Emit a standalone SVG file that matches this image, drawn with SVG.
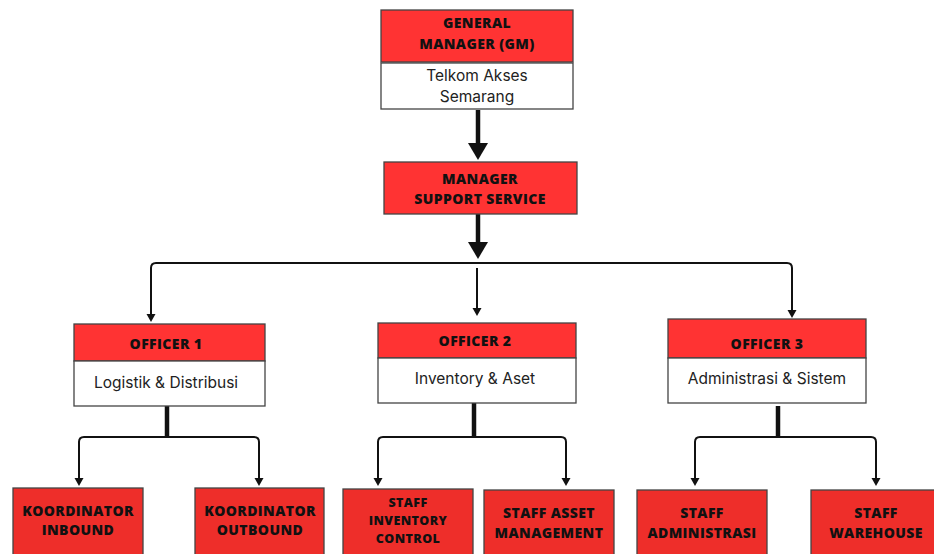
<svg xmlns="http://www.w3.org/2000/svg" width="934" height="554" viewBox="0 0 934 554">
<defs>
<style>
.red{fill:#ff3333;stroke:#444;stroke-width:1.3}
.red2{fill:#ee2e2a;stroke:#444;stroke-width:1.3}
.white{fill:#fff;stroke:#444;stroke-width:1.3}
.t{font-family:"Open Sans","DejaVu Sans",sans-serif;font-weight:800;font-size:14px;letter-spacing:0.4px;fill:#111;text-anchor:middle}
.b{font-family:Inter,Roboto,"Liberation Sans",sans-serif;font-size:15.5px;fill:#222;text-anchor:middle}
.thin{fill:none;stroke:#111;stroke-width:2}
.thick{fill:none;stroke:#111;stroke-width:4.5}
</style>
<marker id="big" markerUnits="userSpaceOnUse" markerWidth="20" markerHeight="20" refX="1" refY="10" orient="auto" viewBox="0 0 20 20">
<path d="M0,0 L17,10 L0,20 z" fill="#111"/>
</marker>
<marker id="sm" markerUnits="userSpaceOnUse" markerWidth="9" markerHeight="10" refX="1" refY="5" orient="auto" viewBox="0 0 9 10">
<path d="M0,0.5 L8,5 L0,9.5 z" fill="#111"/>
</marker>
</defs>
<rect width="934" height="554" fill="#fff"/>

<g id="connectors">
<path class="thick" d="M478,110 V144" marker-end="url(#big)"/>
<path class="thick" d="M478,214 V243" marker-end="url(#big)"/>
<path class="thin" d="M151,316 V268 Q151,263 156,263 H787 Q792,263 792,268 V311" marker-end="url(#sm)"/>
<path class="thin" d="M151,268 V315" marker-end="url(#sm)"/>
<path class="thin" d="M477,268 V309" marker-end="url(#sm)"/>
<path class="thick" d="M167,406 V438"/>
<path class="thin" d="M79,479 V442 Q79,437 84,437 H254 Q259,437 259,442 V479" marker-end="url(#sm)"/>
<path class="thin" d="M79,442 V479" marker-end="url(#sm)"/>
<path class="thick" d="M474,403 V438"/>
<path class="thin" d="M378,479 V442 Q378,437 383,437 H561 Q566,437 566,442 V479" marker-end="url(#sm)"/>
<path class="thin" d="M378,442 V479" marker-end="url(#sm)"/>
<path class="thick" d="M778,406 V438"/>
<path class="thin" d="M695,479 V442 Q695,437 700,437 H871 Q876,437 876,442 V479" marker-end="url(#sm)"/>
<path class="thin" d="M695,442 V479" marker-end="url(#sm)"/>
</g>

<g id="gm">
<rect class="red" x="381" y="10" width="192" height="52"/>
<text class="t" x="477" y="28">GENERAL</text>
<text class="t" x="477" y="49">MANAGER (GM)</text>
<rect class="white" x="381" y="63" width="192" height="46"/>
<text class="b" x="477" y="81">Telkom Akses</text>
<text class="b" x="477" y="102">Semarang</text>
</g>

<g id="manager">
<rect class="red" x="384" y="162" width="193" height="52"/>
<text class="t" x="480" y="184">MANAGER</text>
<text class="t" x="480" y="204">SUPPORT SERVICE</text>
</g>

<g id="officer1">
<rect class="red" x="74" y="324" width="191" height="37"/>
<text class="t" x="166" y="349">OFFICER 1</text>
<rect class="white" x="74" y="361" width="191" height="45"/>
<text class="b" x="166" y="388">Logistik &amp; Distribusi</text>
</g>

<g id="officer2">
<rect class="red" x="378" y="323" width="198" height="35"/>
<text class="t" x="475" y="346">OFFICER 2</text>
<rect class="white" x="378" y="358" width="198" height="45"/>
<text class="b" x="475" y="384">Inventory &amp; Aset</text>
</g>

<g id="officer3">
<rect class="red" x="668" y="319" width="198" height="39"/>
<text class="t" x="767" y="349">OFFICER 3</text>
<rect class="white" x="668" y="358" width="198" height="45"/>
<text class="b" x="767" y="384">Administrasi &amp; Sistem</text>
</g>

<g id="koordinator-inbound">
<rect class="red2" x="13" y="488" width="130" height="72"/>
<text class="t" x="78" y="516">KOORDINATOR</text>
<text class="t" x="78" y="535">INBOUND</text>
</g>

<g id="koordinator-outbound">
<rect class="red2" x="195" y="488" width="129" height="72"/>
<text class="t" x="260" y="516">KOORDINATOR</text>
<text class="t" x="260" y="535">OUTBOUND</text>
</g>

<g id="staff-inventory">
<rect class="red2" x="343" y="489" width="130" height="71"/>
<text class="t" x="408" y="507" style="font-size:12.5px">STAFF</text>
<text class="t" x="408" y="525" style="font-size:12.5px">INVENTORY</text>
<text class="t" x="408" y="543" style="font-size:12.5px">CONTROL</text>
</g>

<g id="staff-asset">
<rect class="red2" x="484" y="490" width="130" height="70"/>
<text class="t" x="549" y="518">STAFF ASSET</text>
<text class="t" x="549" y="538">MANAGEMENT</text>
</g>

<g id="staff-administrasi">
<rect class="red2" x="637" y="490" width="130" height="70"/>
<text class="t" x="702" y="518">STAFF</text>
<text class="t" x="702" y="538">ADMINISTRASI</text>
</g>

<g id="staff-warehouse">
<rect class="red2" x="811" y="490" width="130" height="70"/>
<text class="t" x="876" y="518">STAFF</text>
<text class="t" x="876" y="538">WAREHOUSE</text>
</g>
</svg>
